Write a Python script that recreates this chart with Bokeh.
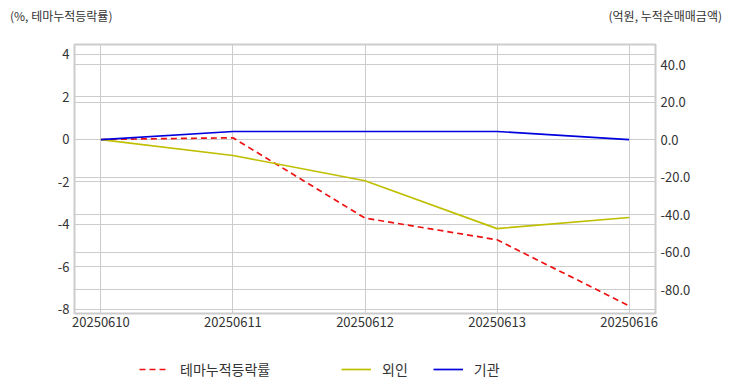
from bokeh.plotting import figure
from bokeh.layouts import column
from bokeh.models import (Range1d, LinearAxis, FixedTicker, NumeralTickFormatter,
                          Grid, Legend, LegendItem, ColumnDataSource, Div)
from bokeh.embed import file_html
from bokeh.resources import INLINE

dates = ["20250610", "20250611", "20250612", "20250613", "20250616"]
theme_ret = [0.0, 0.08, -3.7, -4.72, -7.83]       # 테마누적등락률 (%)
foreign = [0.0, -8.5, -22.0, -47.5, -41.6]       # 외인 (억원)
inst = [0.0, 4.3, 4.3, 4.3, 0.0]                 # 기관 (억원)
left_ticks = [-8, -6, -4, -2, 0, 2, 4]
right_ticks = [-80, -60, -40, -20, 0, 20, 40]
series_names = ["테마누적등락률", "외인", "기관"]
left_title = "(%, 테마누적등락률)"
right_title = "(억원, 누적순매매금액)"

FONT = "Noto Sans CJK KR"
TXT = "#333333"
W = 724
RED, YEL, BLU = "#ee1111", "#bfbf00", "#0000dd"

xs = list(range(len(dates)))
src = ColumnDataSource(dict(x=xs, theme=theme_ret, foreign=foreign, inst=inst))

# ---- header: unit captions ----
span = ("position:absolute;top:8px;line-height:16px;white-space:nowrap;"
        "font-family:'Noto Sans CJK KR';font-size:12px;color:#333333;")
hdr = Div(width=W, height=36, margin=0, text=(
    f'<div style="position:relative;width:{W}px;height:36px;">'
    f'<span style="{span}left:10px;">{left_title}</span>'
    f'<span style="{span}right:2px;">{right_title}</span></div>'))

# ---- main chart ----
p = figure(width=W, height=303, output_backend="svg", toolbar_location=None,
           x_range=Range1d(-0.2, 4.2), y_range=Range1d(-8.19, 4.47),
           min_border_left=74, min_border_right=69, min_border_top=8, min_border_bottom=26)
p.extra_y_ranges = {"right": Range1d(-92.8, 50.7)}

p.outline_line_color = "#cccccc"
p.outline_line_width = 2

p.xaxis.ticker = FixedTicker(ticks=xs)
p.xaxis.major_label_overrides = {i: d for i, d in enumerate(dates)}
p.yaxis.ticker = FixedTicker(ticks=left_ticks)
p.yaxis.formatter = NumeralTickFormatter(format="0")
ra = LinearAxis(y_range_name="right", ticker=FixedTicker(ticks=right_ticks),
                formatter=NumeralTickFormatter(format="0.0"))
p.add_layout(ra, "right")

for ax in p.xaxis + p.yaxis + [ra]:
    ax.axis_line_color = None
    ax.major_tick_line_color = None
    ax.minor_tick_line_color = None
    ax.major_tick_out = 0
    ax.major_label_text_font = FONT
    ax.major_label_text_font_size = "13px"
    ax.major_label_text_color = TXT
    ax.major_label_standoff = 5
p.xaxis.major_label_standoff = 3

p.xgrid.grid_line_color = "#cccccc"
p.ygrid.grid_line_color = "#cccccc"
p.add_layout(Grid(dimension=1, ticker=ra.ticker, y_range_name="right",
                  grid_line_color="#cccccc"))

p.line("x", "theme", source=src, line_color=RED, line_width=1.7, line_dash="6 4")
p.line("x", "foreign", source=src, line_color=YEL, line_width=1.7, y_range_name="right")
p.line("x", "inst", source=src, line_color=BLU, line_width=1.7, y_range_name="right")

# ---- footer holding the legend (same borders as the chart) ----
ftr = figure(width=W, height=45, output_backend="svg", toolbar_location=None,
             x_range=Range1d(-0.2, 4.2), y_range=Range1d(1000, 1001),
             x_axis_type=None, y_axis_type=None,
             min_border_left=74, min_border_right=69, min_border_top=0, min_border_bottom=0)
ftr.outline_line_color = None
ftr.grid.visible = False
lr1 = ftr.line("x", "theme", source=src, line_color=RED, line_width=1.7, line_dash="6 4")
lr2 = ftr.line("x", "foreign", source=src, line_color=YEL, line_width=1.7)
lr3 = ftr.line("x", "inst", source=src, line_color=BLU, line_width=1.7)

def legend(items, vx, spacing=0):
    lg = Legend(items=items, location=(vx, 5), orientation="horizontal",
                glyph_width=30, glyph_height=20, label_standoff=11, spacing=spacing,
                padding=0, margin=0, border_line_color=None, background_fill_alpha=0,
                label_text_font=FONT, label_text_font_size="14px", label_text_color=TXT)
    ftr.add_layout(lg)

legend([LegendItem(label=series_names[0], renderers=[lr1])], 65)
legend([LegendItem(label=series_names[1], renderers=[lr2]),
        LegendItem(label=series_names[2], renderers=[lr3])], 267, spacing=25)

layout = column(hdr, p, ftr, spacing=0)
open("out.html", "w").write(file_html(layout, INLINE))
